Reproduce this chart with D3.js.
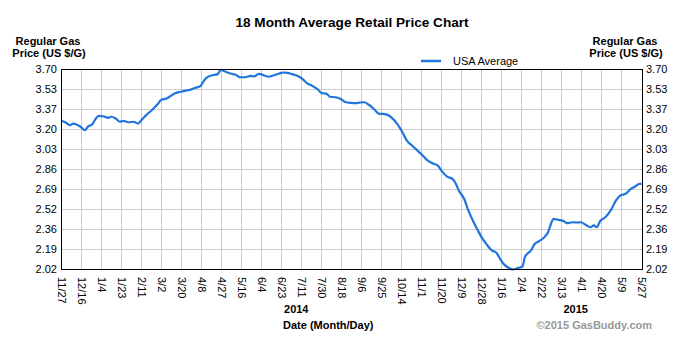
<!DOCTYPE html>
<html><head><meta charset="utf-8">
<script src="https://cdn.jsdelivr.net/npm/d3@7"></script>
<style>
html,body{margin:0;padding:0;background:#fff;}
svg{display:block;font-family:"Liberation Sans",Arial,sans-serif;}
</style></head>
<body>
<svg id="chart" width="685" height="343"></svg>
<script>
// ---- data ----
const startDay = "2013-11-27";
const endDay = "2015-05-27";
const dayOffsets = [0,5,8,11,14,18,22,25,29,32,35,40,44,47,51,55,58,63,68,72,76,80,85,90,94,99,102,107,112,116,121,126,131,134,137,142,147,150,154,159,164,168,173,178,181,186,190,195,200,205,209,213,217,222,227,231,236,241,245,249,253,258,263,267,272,277,281,285,289,294,299,302,307,311,316,321,325,330,335,340,344,349,354,358,363,368,371,374,379,383,388,392,396,401,405,409,412,416,421,425,430,434,436,439,442,445,449,454,458,461,463,468,473,476,481,485,489,493,498,501,504,507,512,517,522,526,531,536,540,544,546];
const prices = [3.269,3.249,3.232,3.246,3.238,3.219,3.190,3.221,3.241,3.283,3.311,3.305,3.294,3.303,3.288,3.261,3.269,3.257,3.261,3.246,3.283,3.319,3.358,3.403,3.445,3.456,3.473,3.501,3.513,3.521,3.529,3.546,3.563,3.605,3.633,3.652,3.661,3.697,3.683,3.666,3.655,3.635,3.635,3.647,3.641,3.664,3.652,3.639,3.652,3.666,3.675,3.672,3.661,3.647,3.619,3.585,3.563,3.535,3.501,3.498,3.471,3.467,3.452,3.427,3.419,3.417,3.423,3.425,3.406,3.370,3.328,3.328,3.319,3.294,3.244,3.173,3.104,3.062,3.020,2.978,2.941,2.913,2.894,2.846,2.800,2.782,2.745,2.684,2.614,2.516,2.417,2.348,2.283,2.222,2.180,2.165,2.123,2.068,2.034,2.020,2.034,2.045,2.118,2.157,2.180,2.230,2.255,2.286,2.333,2.409,2.446,2.437,2.426,2.409,2.417,2.415,2.417,2.398,2.375,2.390,2.375,2.426,2.459,2.516,2.600,2.642,2.656,2.698,2.717,2.740,2.740];
const xTickLabels = ["11/27","12/16","1/4","1/23","2/11","3/2","3/20","4/8","4/27","5/16","6/4","6/23","7/11","7/30","8/18","9/6","9/25","10/14","11/1","11/20","12/9","12/28","1/16","2/4","2/22","3/13","4/1","4/20","5/9","5/27"];
const yTickLabels = ["3.70","3.53","3.37","3.20","3.03","2.86","2.69","2.52","2.36","2.19","2.02"];
const yMin = 2.02, yMax = 3.70;
const seriesName = "USA Average";
const yearLabels = ["2014","2015"];
const yearCenters = ["2014-07-06","2015-03-26"];

// ---- drawing ----
const parse = d3.timeParse("%Y-%m-%d");
const t0 = parse(startDay), t1 = parse(endDay);
const data = dayOffsets.map((d,i)=>({date: d3.timeDay.offset(t0,d), value: prices[i]}));

const L = 61.5, R = 641.5, T = 69.5, B = 269.5;
const svg = d3.select("#chart");
const x = d3.scaleTime().domain([t0,t1]).range([L,R]);
const y = d3.scaleLinear().domain([yMin,yMax]).range([B,T]);

const tickDates = d3.range(xTickLabels.length).map(i => new Date(+t0 + i*(t1-t0)/(xTickLabels.length-1)));
const yTickVals = d3.range(yTickLabels.length).map(i => yMax - i*(yMax-yMin)/(yTickLabels.length-1));

// grid
const grid = svg.append("g");
grid.selectAll("line.v").data(tickDates.slice(1,-1)).join("line")
  .attr("x1",d=>Math.round(x(d))+0.5).attr("x2",d=>Math.round(x(d))+0.5)
  .attr("y1",T).attr("y2",B).attr("stroke","#cccccc").attr("stroke-width",1);
grid.selectAll("line.h").data(yTickVals.slice(1,-1)).join("line")
  .attr("y1",d=>Math.round(y(d)-0.5)+0.5).attr("y2",d=>Math.round(y(d)-0.5)+0.5)
  .attr("x1",L).attr("x2",R+1).attr("stroke","#cccccc").attr("stroke-width",1);

// line
svg.append("path").datum(data)
  .attr("d", d3.line().x(d=>x(d.date)).y(d=>y(d.value)).curve(d3.curveMonotoneX))
  .attr("fill","none").attr("stroke","#1f75dc").attr("stroke-width",2.2).attr("stroke-linejoin","round");

// border
svg.append("rect").attr("x",L).attr("y",T).attr("width",R+1-L).attr("height",B-T)
  .attr("fill","none").attr("stroke","#000").attr("stroke-width",1);

// y axes
const yl = svg.append("g").attr("font-size",11).attr("fill","#000");
yl.selectAll("text.l").data(yTickVals).join("text")
  .attr("x",57).attr("y",d=>y(d)).attr("dy","0.36em").attr("text-anchor","end")
  .text((d,i)=>yTickLabels[i]);
yl.selectAll("text.r").data(yTickVals).join("text")
  .attr("x",646).attr("y",d=>y(d)).attr("dy","0.36em").attr("text-anchor","start")
  .text((d,i)=>yTickLabels[i]);

// x tick labels rotated
svg.append("g").attr("font-size",11).selectAll("text").data(tickDates).join("text")
  .attr("transform",d=>`translate(${x(d)},277) rotate(90)`)
  .attr("dy","0.36em").attr("text-anchor","start")
  .text((d,i)=>xTickLabels[i]);

// titles
svg.append("text").attr("x",352).attr("y",27).attr("text-anchor","middle")
  .attr("font-size",13.6).attr("font-weight","bold").text("18 Month Average Retail Price Chart");
[[48,"Regular Gas",45],[49,"Price (US $/G)",57],[625,"Regular Gas",45],[626,"Price (US $/G)",57]].forEach(([cx,t,cy])=>{
  svg.append("text").attr("x",cx).attr("y",cy).attr("text-anchor","middle")
    .attr("font-size",11).attr("font-weight","bold").text(t);
});

// legend
svg.append("line").attr("x1",421).attr("x2",441).attr("y1",61).attr("y2",61)
  .attr("stroke","#1f75dc").attr("stroke-width",2.5);
svg.append("text").attr("x",453).attr("y",64.5).attr("font-size",11).text(seriesName);

// year labels
svg.selectAll("text.year").data(yearLabels).join("text")
  .attr("x",(d,i)=>x(parse(yearCenters[i]))).attr("y",313).attr("text-anchor","middle")
  .attr("font-size",11).attr("font-weight","bold").text(d=>d);

svg.append("text").attr("x",283).attr("y",329).attr("text-anchor","start")
  .attr("font-size",11).attr("font-weight","bold").text("Date (Month/Day)");
svg.append("text").attr("x",652).attr("y",329).attr("text-anchor","end")
  .attr("font-size",11).attr("font-weight","bold").attr("fill","#999").text("©2015 GasBuddy.com");
</script>
</body></html>
